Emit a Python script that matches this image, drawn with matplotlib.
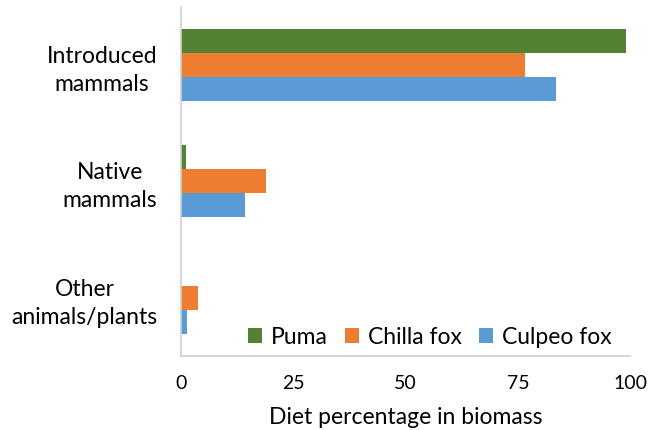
import matplotlib.pyplot as plt
import numpy as np

plt.rcParams['font.family'] = ['Lato', 'DejaVu Sans']

categories = ['Introduced\nmammals', 'Native\nmammals', 'Other\nanimals/plants']
series = ['Puma', 'Chilla fox', 'Culpeo fox']
puma = [99, 1, 0]
chilla = [76.5, 19, 3.8]
culpeo = [83.5, 14.3, 1.3]
colors = ['#548235', '#ED7D31', '#5B9BD5']
xticks = [0, 25, 50, 75, 100]

fig = plt.figure(figsize=(6.49, 4.30), dpi=100)
ax = fig.add_axes([0.279, 0.172, 0.692, 0.812])

# top category first, each group: Puma on top, Culpeo at the bottom
y = np.arange(len(categories))[::-1]
h = 0.206
for k, (name, vals, c) in enumerate(zip(series, [puma, chilla, culpeo], colors)):
    ax.barh(y + (1 - k) * h, vals, height=h, color=c, label=name)

ax.set_ylim(-0.5, 2.5)
ax.set_xlim(0, 100)
ax.set_yticks(y)
ax.set_yticklabels(categories, fontsize=16.5, ha='right',
                   multialignment='center', linespacing=1.4)
ax.set_xticks(xticks)
ax.set_xticklabels([str(t) for t in xticks], fontsize=14)
ax.tick_params(axis='y', length=0, pad=17)
ax.tick_params(axis='x', length=0, pad=14)
ax.set_xlabel('Diet percentage in biomass', fontsize=16.5, labelpad=10.5)

for s in ['top', 'right']:
    ax.spines[s].set_visible(False)
for s in ['left', 'bottom']:
    ax.spines[s].set_color('#d0d0d0')
    ax.spines[s].set_linewidth(1.2)

ax.legend(ncol=3, loc='lower right', bbox_to_anchor=(1.005, -0.035), frameon=False,
          fontsize=16.5, handlelength=0.6, handleheight=0.6, handletextpad=0.4,
          columnspacing=0.75)

fig.savefig('out.png', dpi=100)
